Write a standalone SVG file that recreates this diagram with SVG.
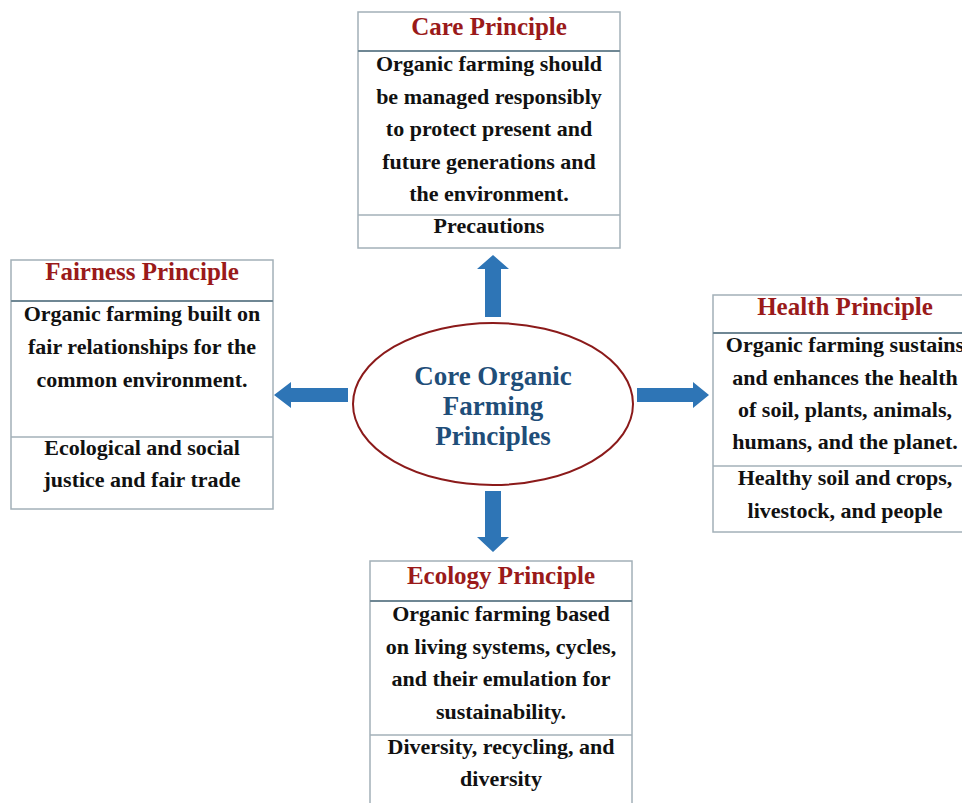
<svg xmlns="http://www.w3.org/2000/svg" width="962" height="803" viewBox="0 0 962 803">
<style>
.box{fill:#ffffff;stroke:#a3b0b8;stroke-width:1.5}
.hdr{stroke:#6f8794;stroke-width:2}
.div{stroke:#a3b0b8;stroke-width:1.5}
.title{font-family:"Liberation Serif","Times New Roman",serif;font-weight:bold;font-size:25px;fill:#9a1a1a;text-anchor:middle}
.body{font-family:"Liberation Serif","Times New Roman",serif;font-weight:bold;font-size:22px;fill:#111111;text-anchor:middle}
.core{font-family:"Liberation Serif","Times New Roman",serif;font-weight:bold;font-size:27px;fill:#1f4e79;text-anchor:middle}
.arrow{fill:#2e75b6}
</style>
<rect width="962" height="803" fill="#ffffff"/>
<g id="connectors">
<polygon class="arrow" points="485,317 485,269 477,269 493,255 509,269 501,269 501,317"/>
<polygon class="arrow" points="348,388 291,388 291,382 274,395 291,408 291,402 348,402"/>
<polygon class="arrow" points="637,388 693,388 693,382 709,395 693,408 693,402 637,402"/>
<polygon class="arrow" points="485,491 485,537 477,537 493,552 509,537 501,537 501,491"/>
</g>
<g id="core">
<ellipse cx="493" cy="404" rx="140" ry="81" fill="#ffffff" stroke="#8b1a1a" stroke-width="2"/>
<text class="core" x="493" y="385">Core Organic</text>
<text class="core" x="493" y="415">Farming</text>
<text class="core" x="493" y="445">Principles</text>
</g>
<g id="care">
<rect class="box" x="358" y="12" width="262" height="236"/>
<line class="hdr" x1="358" y1="51" x2="620" y2="51"/>
<line class="div" x1="358" y1="215" x2="620" y2="215"/>
<text class="title" x="489" y="35">Care Principle</text>
<text class="body" x="489" y="71">Organic farming should</text>
<text class="body" x="489" y="104">be managed responsibly</text>
<text class="body" x="489" y="136">to protect present and</text>
<text class="body" x="489" y="169">future generations and</text>
<text class="body" x="489" y="201">the environment.</text>
<text class="body" x="489" y="233">Precautions</text>
</g>
<g id="fairness">
<rect class="box" x="11" y="260" width="262" height="249"/>
<line class="hdr" x1="11" y1="301" x2="273" y2="301"/>
<line class="div" x1="11" y1="437" x2="273" y2="437"/>
<text class="title" x="142" y="280">Fairness Principle</text>
<text class="body" x="142" y="321">Organic farming built on</text>
<text class="body" x="142" y="354">fair relationships for the</text>
<text class="body" x="142" y="387">common environment.</text>
<text class="body" x="142" y="455">Ecological and social</text>
<text class="body" x="142" y="487">justice and fair trade</text>
</g>
<g id="health">
<rect class="box" x="713" y="295" width="264" height="237"/>
<line class="hdr" x1="713" y1="333" x2="977" y2="333"/>
<line class="div" x1="713" y1="466" x2="977" y2="466"/>
<text class="title" x="845" y="315">Health Principle</text>
<text class="body" x="845" y="352">Organic farming sustains</text>
<text class="body" x="845" y="385">and enhances the health</text>
<text class="body" x="845" y="417">of soil, plants, animals,</text>
<text class="body" x="845" y="449">humans, and the planet.</text>
<text class="body" x="845" y="485">Healthy soil and crops,</text>
<text class="body" x="845" y="518">livestock, and people</text>
</g>
<g id="ecology">
<rect class="box" x="370" y="561" width="262" height="260"/>
<line class="hdr" x1="370" y1="601" x2="632" y2="601"/>
<line class="div" x1="370" y1="735" x2="632" y2="735"/>
<text class="title" x="501" y="584">Ecology Principle</text>
<text class="body" x="501" y="621">Organic farming based</text>
<text class="body" x="501" y="654">on living systems, cycles,</text>
<text class="body" x="501" y="686">and their emulation for</text>
<text class="body" x="501" y="719">sustainability.</text>
<text class="body" x="501" y="754">Diversity, recycling, and</text>
<text class="body" x="501" y="786">diversity</text>
</g>
</svg>
